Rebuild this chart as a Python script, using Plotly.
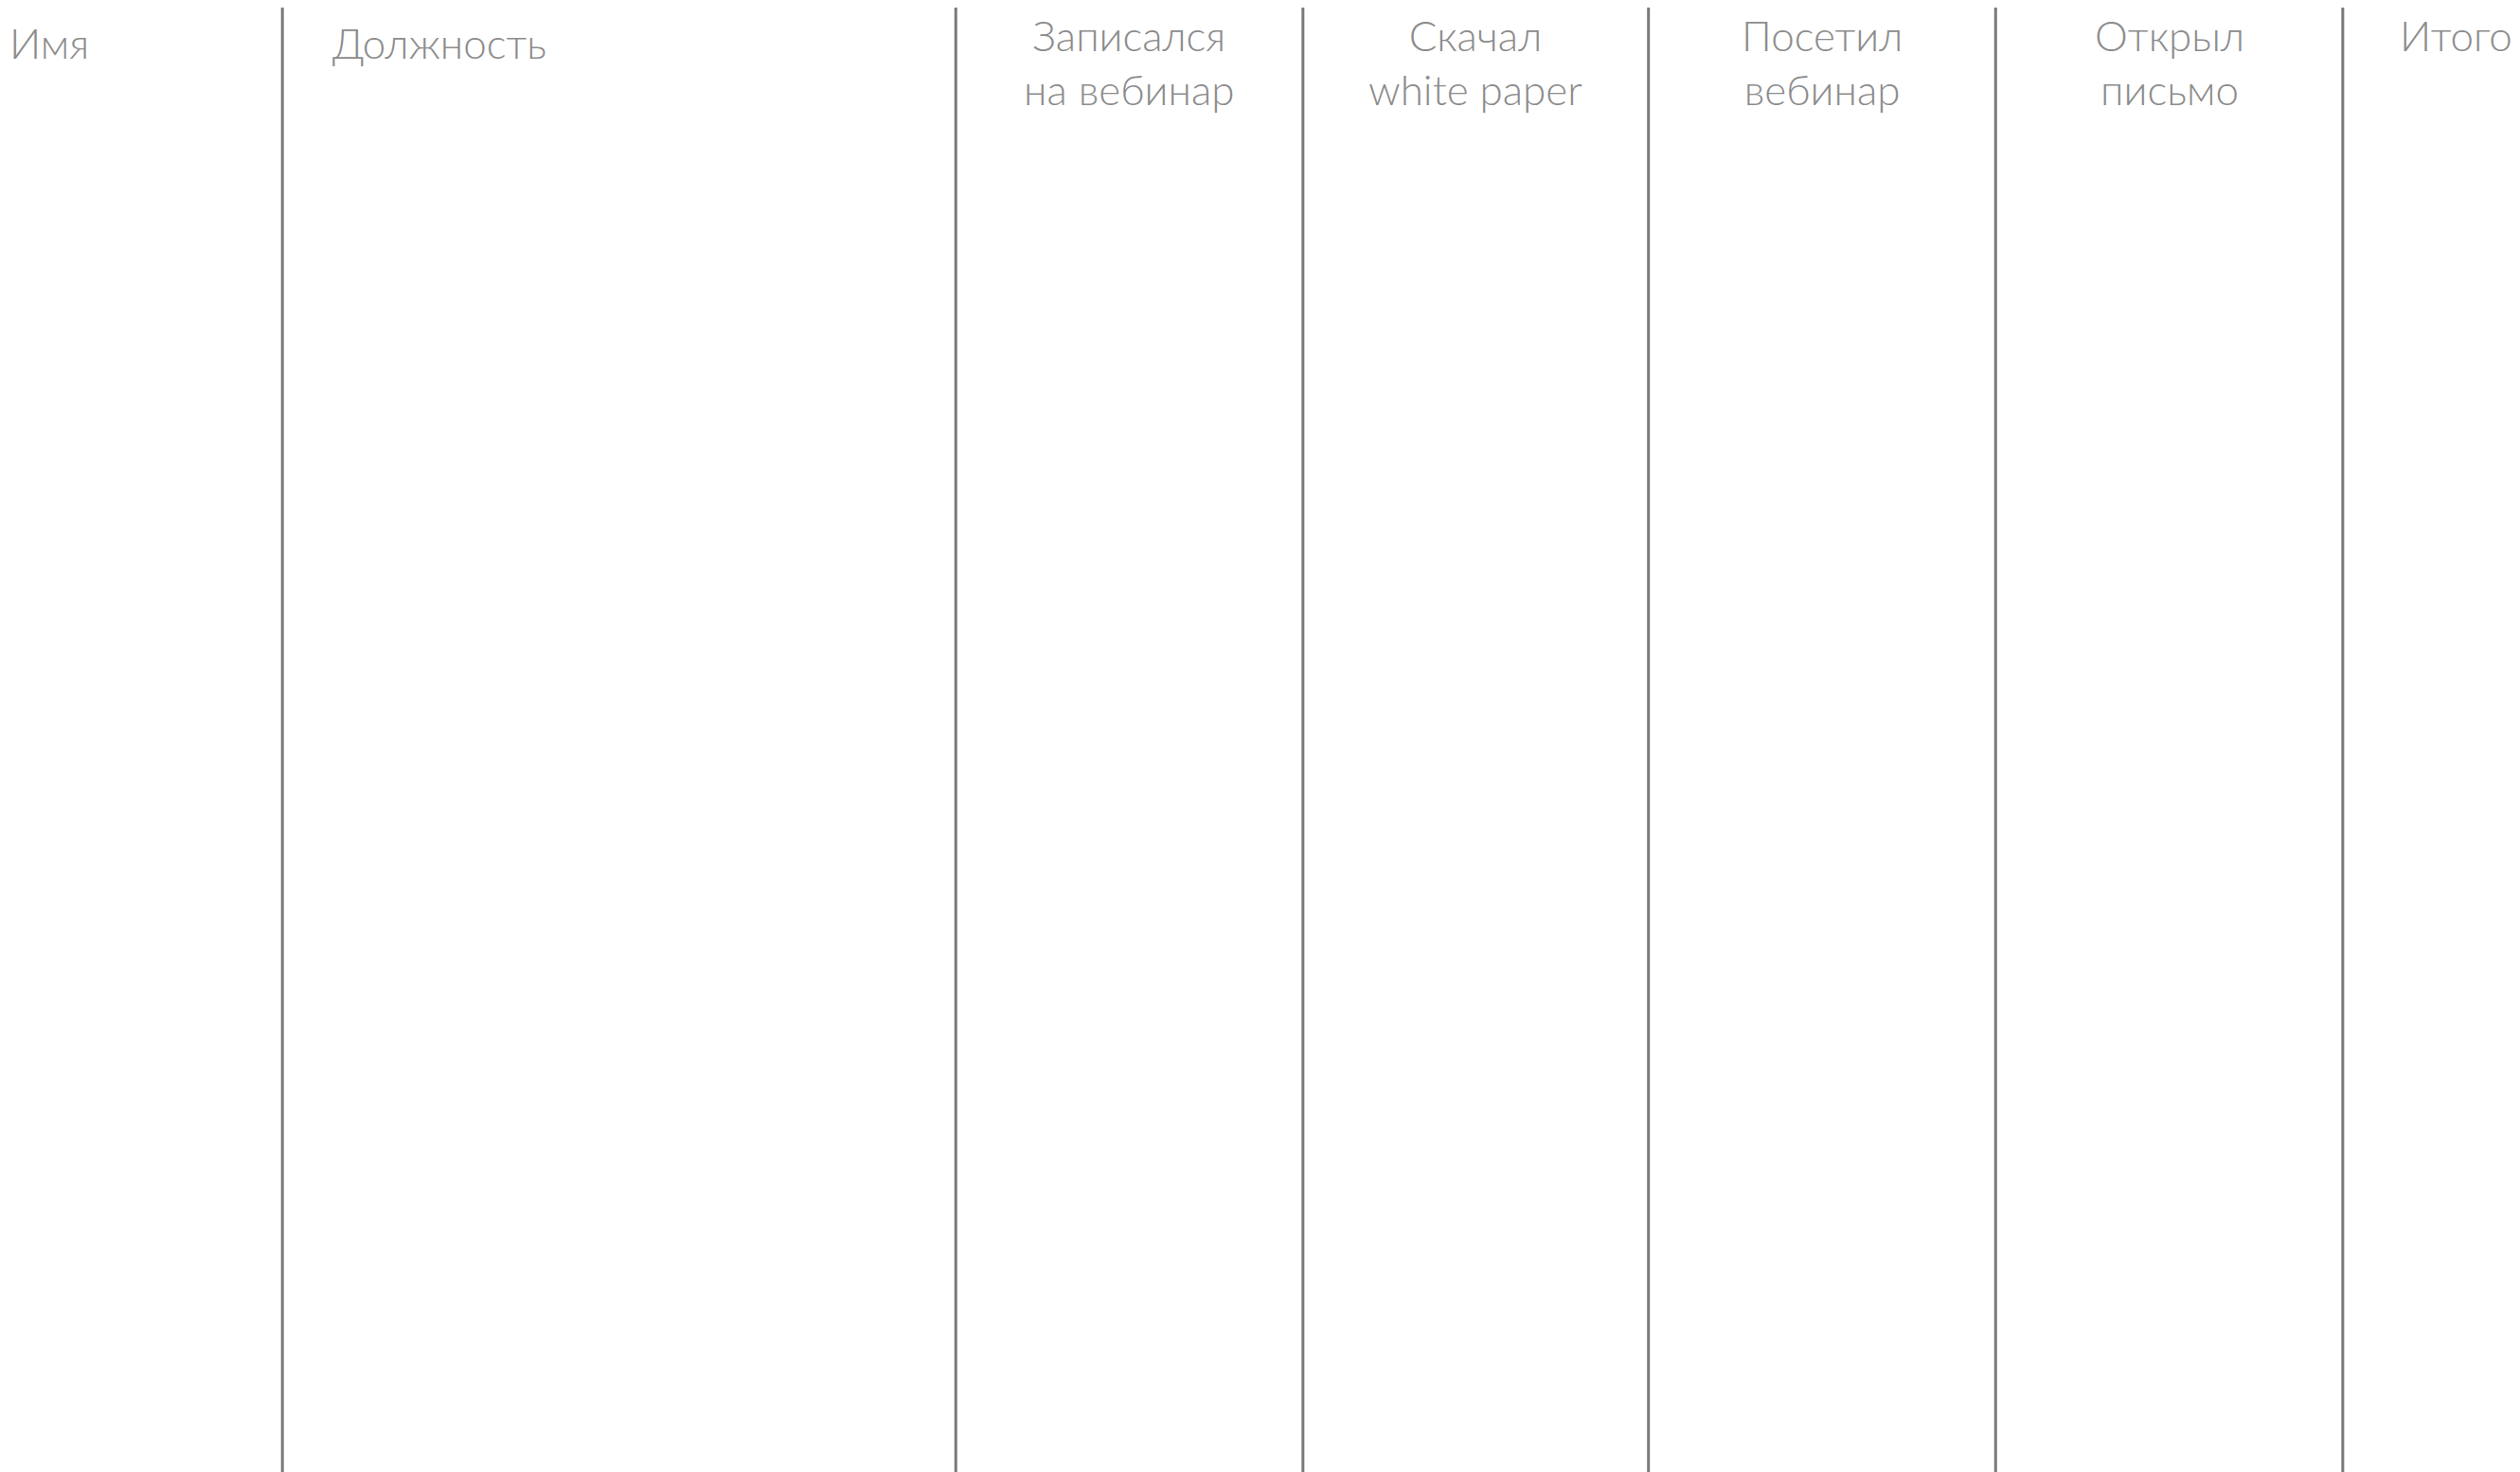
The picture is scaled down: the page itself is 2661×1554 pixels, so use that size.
import numpy as np
import plotly.graph_objects as go

# column widths (in display units of the original sheet)
col_widths = [171, 419, 216, 215, 216, 216, 115]
headers = ["Имя", "Должность", "Записался<br>на вебинар", "Скачал<br>white paper",
           "Посетил<br>вебинар", "Открыл<br>письмо", "Итого"]
total_w = 1568
total_h = 915
line_bottom = 912

edges = np.cumsum(col_widths)[:-1]
lefts = np.concatenate([[0], edges])

fig = go.Figure()

# vertical separators
xs, ys = [], []
for e in edges:
    xs += [e, e, None]
    ys += [0, line_bottom, None]
fig.add_trace(go.Scatter(x=xs, y=ys, mode="lines",
                         line=dict(color="#7a7a7a", width=3),
                         hoverinfo="skip", showlegend=False))

gray = "#8c8c8c"
font = dict(family="Lato", size=44, color=gray, weight=300)

# first two headers left aligned, the rest centred
fig.add_annotation(x=0, y=22, text=headers[0], xanchor="left", yanchor="middle",
                   showarrow=False, font=font)
fig.add_annotation(x=lefts[1] + 30, y=22, text=headers[1], xanchor="left",
                   yanchor="middle", showarrow=False, font=font)
for i in range(2, 6):
    cx = lefts[i] + col_widths[i] / 2
    fig.add_annotation(x=cx, y=34, text=headers[i], xanchor="center",
                       yanchor="middle", showarrow=False, font=font)
fig.add_annotation(x=1487, y=17, text=headers[6], xanchor="left", yanchor="middle",
                   showarrow=False, font=font)

fig.update_layout(
    width=2661, height=1554,
    margin=dict(l=0, r=0, t=0, b=0),
    paper_bgcolor="white", plot_bgcolor="white",
    xaxis=dict(range=[0, total_w], visible=False, fixedrange=True),
    yaxis=dict(range=[total_h, 0], visible=False, fixedrange=True),
)

fig.write_html("out.html")
